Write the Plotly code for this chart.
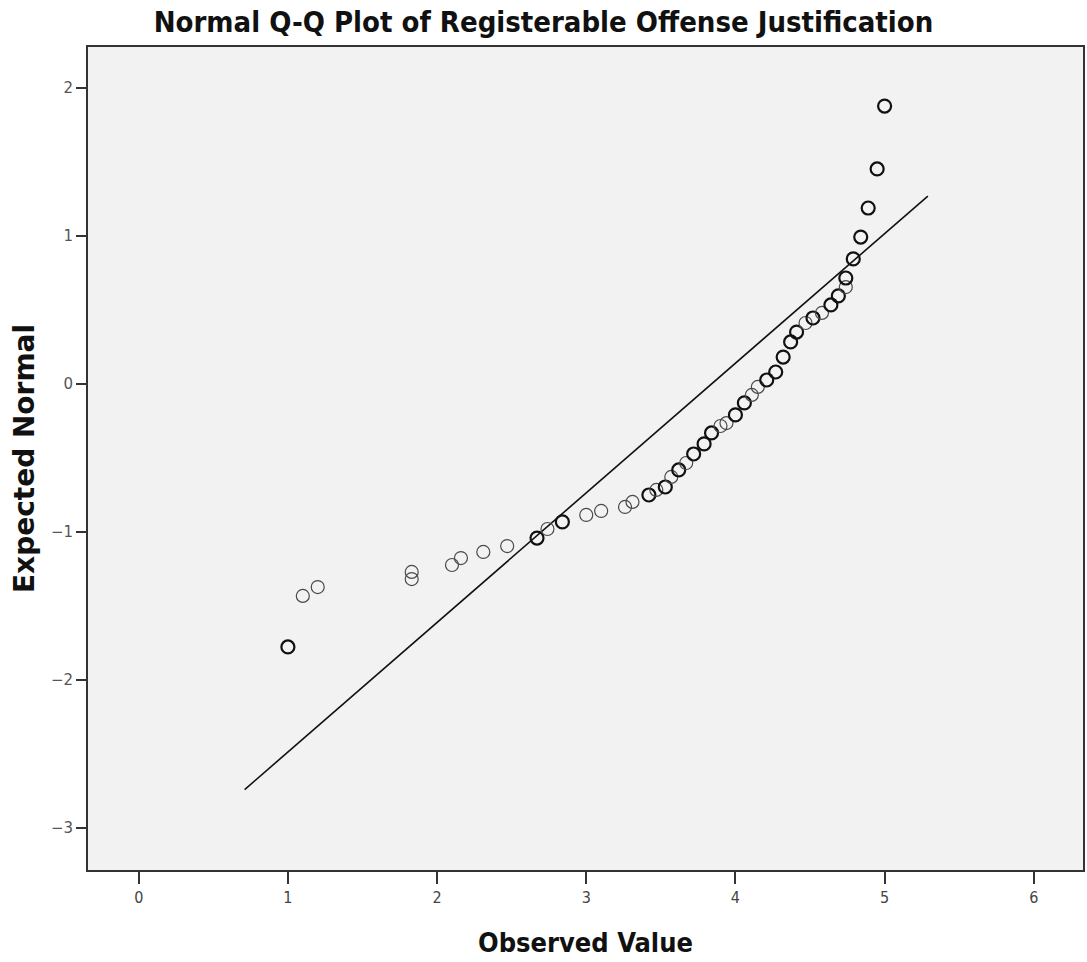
import plotly.graph_objects as go

observed = [1.00, 1.10, 1.20, 1.83, 1.83, 2.10, 2.16, 2.31, 2.47, 2.67,
            2.74, 2.84, 3.00, 3.10, 3.26, 3.31, 3.42, 3.47, 3.53, 3.57,
            3.62, 3.67, 3.72, 3.79, 3.84, 3.90, 3.94, 4.00, 4.06, 4.11,
            4.15, 4.21, 4.27, 4.32, 4.37, 4.41, 4.47, 4.52, 4.58, 4.64,
            4.69, 4.74, 4.74, 4.79, 4.84, 4.89, 4.95, 5.00]
expected = [-1.777, -1.432, -1.372, -1.318, -1.270, -1.223, -1.176, -1.135, -1.095, -1.041,
            -0.980, -0.932, -0.885, -0.858, -0.831, -0.797, -0.750, -0.716, -0.696, -0.628,
            -0.581, -0.534, -0.473, -0.405, -0.331, -0.284, -0.264, -0.209, -0.128, -0.074,
            -0.020, 0.027, 0.081, 0.182, 0.284, 0.351, 0.412, 0.446, 0.480, 0.534,
            0.595, 0.655, 0.716, 0.845, 0.993, 1.189, 1.453, 1.878]
# number of tied cases drawn at each point (ties make the circle look bold)
counts = [3, 1, 1, 1, 1, 1, 1, 1, 1, 2,
          1, 2, 1, 1, 1, 1, 2, 1, 2, 1,
          2, 1, 2, 2, 2, 1, 1, 2, 2, 1,
          1, 2, 2, 2, 2, 2, 1, 2, 1, 2,
          2, 1, 2, 2, 2, 2, 2, 2]

# reference line: expected = (observed - mean) / sd
line_mean = 3.84
line_sd = 1.142
line_x = [0.71, 5.29]
line_y = [(v - line_mean) / line_sd for v in line_x]

x_ticks = [0, 1, 2, 3, 4, 5, 6]
y_ticks = [-3, -2, -1, 0, 1, 2]

cond = "Liberation Sans Narrow, DejaVu Sans Condensed, Arial Narrow, DejaVu Sans, sans-serif"

widths = [1.2 if c == 1 else 2.2 for c in counts]
colors = ["#4a4a4a" if c == 1 else "#111111" for c in counts]

fig = go.Figure()
fig.add_trace(go.Scatter(
    x=line_x, y=line_y, mode="lines",
    line=dict(color="#111111", width=1.6),
    hoverinfo="skip", showlegend=False))
fig.add_trace(go.Scatter(
    x=observed, y=expected, mode="markers",
    marker=dict(symbol="circle-open", size=13,
                line=dict(width=widths, color=colors), color=colors),
    showlegend=False))

fig.update_layout(
    width=1087, height=962,
    margin=dict(l=88, r=2, t=47, b=92),
    paper_bgcolor="white",
    plot_bgcolor="#f2f2f2",
    title=dict(text="<b>Normal Q-Q Plot of Registerable Offense Justification</b>",
               x=0.5, xanchor="center", y=1 - 22 / 962, yanchor="middle",
               font=dict(family=cond, size=29, color="#111111")),
)
fig.update_xaxes(
    range=[-0.34, 6.33], tickvals=x_ticks, ticktext=[str(v) for v in x_ticks],
    showgrid=False, zeroline=False,
    showline=True, linecolor="#333333", linewidth=2, mirror=True,
    ticks="outside", ticklen=12, tickwidth=1.5, tickcolor="#333333",
    tickfont=dict(family=cond, size=16, color="#444444"),
    title=dict(text="<b>Observed Value</b>", standoff=27,
               font=dict(family=cond, size=27, color="#111111")),
)
fig.update_yaxes(
    range=[-3.284, 2.277], tickvals=y_ticks,
    showgrid=False, zeroline=False,
    showline=True, linecolor="#333333", linewidth=2, mirror=True,
    ticks="outside", ticklen=10, tickwidth=1.5, tickcolor="#333333",
    tickfont=dict(family="DejaVu Sans", size=15, color="#555555"),
    title=dict(text="<b>Expected Normal</b>", standoff=8,
               font=dict(family="DejaVu Sans", size=28, color="#111111")),
)

fig.write_html("out.html")
